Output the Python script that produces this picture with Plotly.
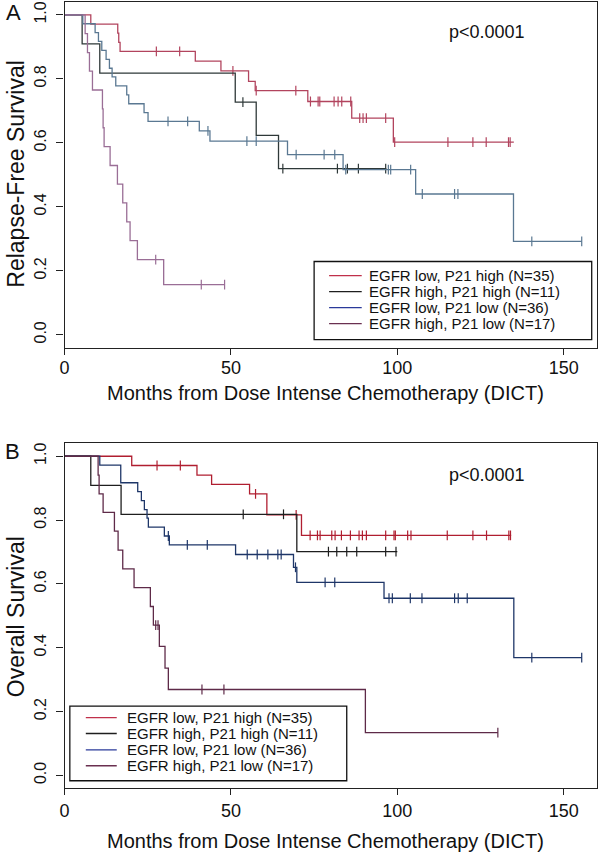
import plotly.graph_objects as go

# ---------------- DATA ----------------
group_names = ["EGFR low, P21 high (N=35)", "EGFR high, P21 high (N=11)",
               "EGFR low, P21 low (N=36)", "EGFR high, P21 low (N=17)"]

x_ticks = [0, 50, 100, 150]
y_ticks = [0.0, 0.2, 0.4, 0.6, 0.8, 1.0]
y_tick_text = ["0.0", "0.2", "0.4", "0.6", "0.8", "1.0"]

# Panel A: Relapse-free survival
a_red_t = [7.9, 16.0, 16.3, 16.7, 39.3, 47.0, 55.3, 57.3, 73.1, 86.3, 98.8]
a_red_s = [0.971, 0.943, 0.914, 0.886, 0.855, 0.825, 0.792, 0.763, 0.729, 0.677, 0.602]
a_red_c = [27.6, 34.6, 50.6, 57.6, 69.5, 73.9, 76.2, 76.7, 81.0, 82.2, 83.3, 86.0, 88.7, 89.7,
           90.7, 96.5, 99.2, 115.2, 122.7, 126.7, 133.4, 133.9]
a_red_end = 135.0

a_blk_t = [5.3, 10.6, 51.3, 57.6, 64.3]
a_blk_s = [0.909, 0.818, 0.727, 0.623, 0.519]
a_blk_c = [53.6, 65.6, 82.0, 85.0, 88.3, 96.5]
a_blk_end = 96.7

a_blu_t = [5.5, 9.2, 10.2, 11.2, 12.5, 13.5, 14.3, 15.4, 18.7, 19.3, 23.9, 25.1, 40.5, 43.7,
           67.0, 83.7, 105.5, 134.9]
a_blu_s = [0.972, 0.944, 0.917, 0.889, 0.861, 0.833, 0.806, 0.778, 0.750, 0.722, 0.694, 0.667,
           0.637, 0.605, 0.563, 0.516, 0.440, 0.292]
a_blu_c = [31.1, 37.0, 43.1, 54.8, 57.6, 69.6, 78.0, 81.2, 84.5, 97.3, 98.0, 104.0, 107.5,
           117.2, 118.2, 140.4, 155.4]
a_blu_end = 155.4

a_pur_t = [6.2, 6.9, 7.5, 8.4, 11.4, 11.6, 11.9, 13.7, 15.9, 17.5, 18.7, 19.7, 21.9, 29.8]
a_pur_s = [0.941, 0.882, 0.824, 0.765, 0.706, 0.647, 0.588, 0.529, 0.471, 0.412, 0.353, 0.294,
           0.235, 0.157]
a_pur_c = [27.4, 41.1, 48.1]
a_pur_end = 48.1

# Panel B: Overall survival
b_red_t = [20.2, 39.8, 44.2, 55.6, 60.8, 71.2]
b_red_s = [0.971, 0.941, 0.912, 0.882, 0.816, 0.752]
b_red_c = [27.8, 34.8, 57.4, 69.6, 73.8, 76.0, 76.8, 80.3, 81.3, 83.2, 85.9, 88.5, 89.5, 90.7,
           96.5, 99.0, 99.4, 103.1, 104.1, 115.0, 122.7, 126.8, 133.5, 134.0]
b_red_end = 134.2

b_blk_t = [7.9, 17.0, 69.8]
b_blk_s = [0.909, 0.818, 0.701]
b_blk_c = [53.7, 65.8, 79.3, 81.8, 84.8, 87.8, 96.5, 99.6]
b_blk_end = 100.0

b_blu_t = [10.6, 16.9, 22.0, 23.1, 24.0, 24.8, 25.2, 30.0, 31.5, 51.4, 68.8, 69.8, 96.0, 135.0]
b_blu_s = [0.972, 0.917, 0.889, 0.861, 0.833, 0.806, 0.778, 0.750, 0.722, 0.692, 0.652, 0.605,
           0.555, 0.369]
b_blu_c = [31.2, 36.9, 42.9, 54.9, 57.9, 61.1, 64.1, 65.1, 69.4, 78.3, 81.2, 97.5, 98.5, 103.9,
           107.4, 117.2, 118.3, 121.0, 140.4, 155.4]
b_blu_end = 155.4

b_pur_t = [10.1, 10.4, 11.6, 15.0, 16.1, 17.5, 20.9, 25.8, 26.7, 28.5, 30.2, 31.2, 90.4]
b_pur_s = [0.941, 0.882, 0.824, 0.765, 0.706, 0.647, 0.588, 0.529, 0.471, 0.404, 0.336, 0.269,
           0.134]
b_pur_c = [27.4, 28.1, 41.3, 47.9, 130.2]
b_pur_end = 130.2

# ---------------- STYLE ----------------
colors_a = ["#b2445e", "#2e3838", "#5a7892", "#9a6e96"]
colors_b = ["#b01e30", "#1e1e1e", "#1e3668", "#5e2a48"]
legend_colors = ["#c0304a", "#1e1e1e", "#2a3a9a", "#6a3050"]
FONT = "Liberation Sans, Arial, sans-serif"

W, H = 601, 853
px = lambda v: v / W
py = lambda v: 1 - v / H

fig = go.Figure()


def surv_at(times, survs, t):
    s = 1.0
    for ti, si in zip(times, survs):
        if ti <= t:
            s = si
    return s


def add_curve(t, s, c, end, color, xa, ya):
    xs = [0] + t + [end]
    ys = [1.0] + s + [s[-1]]
    fig.add_trace(go.Scatter(x=xs, y=ys, mode="lines", line=dict(color=color, width=1.3, shape="hv"),
                             xaxis=xa, yaxis=ya, showlegend=False, hoverinfo="skip"))
    cy = [surv_at(t, s, ci) for ci in c]
    fig.add_trace(go.Scatter(x=c, y=cy, mode="markers",
                             marker=dict(symbol="line-ns", size=7, line=dict(color=color, width=1.2)),
                             xaxis=xa, yaxis=ya, showlegend=False, hoverinfo="skip"))


panel_a = [(a_red_t, a_red_s, a_red_c, a_red_end), (a_blk_t, a_blk_s, a_blk_c, a_blk_end),
           (a_blu_t, a_blu_s, a_blu_c, a_blu_end), (a_pur_t, a_pur_s, a_pur_c, a_pur_end)]
panel_b = [(b_red_t, b_red_s, b_red_c, b_red_end), (b_blk_t, b_blk_s, b_blk_c, b_blk_end),
           (b_blu_t, b_blu_s, b_blu_c, b_blu_end), (b_pur_t, b_pur_s, b_pur_c, b_pur_end)]

for (t, s, c, e), col in zip(panel_a, colors_a):
    add_curve(t, s, c, e, col, "x", "y")
for (t, s, c, e), col in zip(panel_b, colors_b):
    add_curve(t, s, c, e, col, "x2", "y2")

axis_common = dict(showline=True, mirror=True, linecolor="#222", linewidth=1.2, ticks="outside",
                   tickcolor="#222", tickwidth=1.2, showgrid=False, zeroline=False, fixedrange=True)

xdom = [px(60), px(597)]
fig.update_layout(
    width=W, height=H, margin=dict(l=0, r=0, t=0, b=0),
    paper_bgcolor="white", plot_bgcolor="white",
    font=dict(family=FONT, color="#111"),
    xaxis=dict(domain=xdom, range=[0, 160], tickvals=x_ticks, ticklen=6, anchor="y",
               tickfont=dict(size=18), ticklabelstandoff=-2, **axis_common),
    yaxis=dict(domain=[py(347), py(1)], range=[-0.04, 1.04], tickvals=y_ticks, ticktext=y_tick_text,
               ticklen=7, tickangle=-90, anchor="x", tickfont=dict(size=16), ticklabelstandoff=4,
               **axis_common),
    xaxis2=dict(domain=xdom, range=[0, 160], tickvals=x_ticks, ticklen=6, anchor="y2",
                tickfont=dict(size=18), **axis_common),
    yaxis2=dict(domain=[py(788), py(443)], range=[-0.04, 1.04], tickvals=y_ticks, ticktext=y_tick_text,
                ticklen=7, tickangle=-90, anchor="x2", tickfont=dict(size=16), ticklabelstandoff=4,
                **axis_common),
)

ann = []
shapes = []
# panel letters
ann.append(dict(text="A", x=px(9), y=py(12), xref="paper", yref="paper", showarrow=False,
                font=dict(size=22), xanchor="center", yanchor="middle"))
ann.append(dict(text="B", x=px(8), y=py(451), xref="paper", yref="paper", showarrow=False,
                font=dict(size=22), xanchor="center", yanchor="middle"))
# axis titles
ann.append(dict(text="Relapse-Free Survival", x=px(11), y=py(173), xref="paper", yref="paper",
                showarrow=False, textangle=-90, font=dict(size=23), xanchor="center", yanchor="middle"))
ann.append(dict(text="Overall Survival", x=px(11), y=py(616), xref="paper", yref="paper",
                showarrow=False, textangle=-90, font=dict(size=23), xanchor="center", yanchor="middle"))
for yy in (392, 841):
    ann.append(dict(text="Months from Dose Intense Chemotherapy (DICT)", x=px(323), y=py(yy),
                    xref="paper", yref="paper", showarrow=False, font=dict(size=20),
                    xanchor="center", yanchor="middle"))
# p-values
ann.append(dict(text="p<0.0001", x=127, y=0.945, xref="x", yref="y", showarrow=False,
                font=dict(size=18), xanchor="center", yanchor="middle"))
ann.append(dict(text="p<0.0001", x=127, y=0.94, xref="x2", yref="y2", showarrow=False,
                font=dict(size=18), xanchor="center", yanchor="middle"))


def manual_legend(xr, yr, box, rows, line_x, text_x):
    shapes.append(dict(type="rect", xref=xr, yref=yr, x0=box[0], x1=box[1], y0=box[2], y1=box[3],
                       line=dict(color="#111", width=1.3), fillcolor="white", layer="above"))
    for name, col, ry in zip(group_names, legend_colors, rows):
        shapes.append(dict(type="line", xref=xr, yref=yr, x0=line_x[0], x1=line_x[1], y0=ry, y1=ry,
                           line=dict(color=col, width=1.3), layer="above"))
        ann.append(dict(text=name, x=text_x, y=ry, xref=xr, yref=yr, showarrow=False,
                        font=dict(size=15), xanchor="left", yanchor="middle"))


manual_legend("x", "y", (75.0, 158.4, -0.015, 0.229), [0.185, 0.135, 0.085, 0.035], (79.5, 89.3), 91.0)
manual_legend("x2", "y2", (1.6, 84.8, -0.017, 0.217), [0.181, 0.131, 0.080, 0.030], (6.4, 15.7), 18.2)

fig.update_layout(annotations=ann, shapes=shapes)
fig.write_html("out.html", config={"displayModeBar": False},
               post_script="document.body.style.margin='0';document.body.style.padding='0';")
